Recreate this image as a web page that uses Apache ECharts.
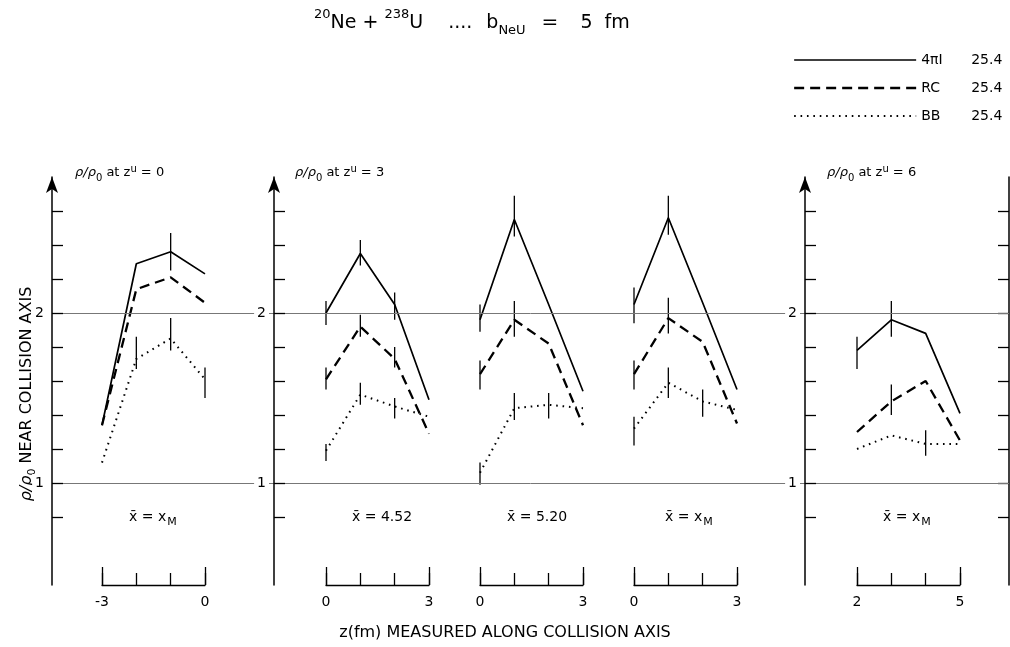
<!DOCTYPE html>
<html><head><meta charset="utf-8">
<script src="https://cdn.jsdelivr.net/npm/echarts@6/dist/echarts.min.js"></script>
<style>html,body{margin:0;padding:0;background:#fff}#c{width:1010px;height:647px}</style>
</head><body><div id="c"></div>
<script>
// ---------------- data ----------------
const panelRanges = [[-3, 0], [0, 3], [0, 3], [0, 3], [2, 5]];
const panelX = [[-3, -2, -1, 0], [0, 1, 2, 3], [0, 1, 2, 3], [0, 1, 2, 3], [2, 3, 4, 5]];
const values4piI = [[1.34, 2.29, 2.36, 2.23], [2.00, 2.35, 2.05, 1.49], [1.96, 2.55, 2.05, 1.54], [2.05, 2.56, 2.06, 1.55], [1.78, 1.96, 1.88, 1.41]];
const valuesRC = [[1.34, 2.14, 2.21, 2.06], [1.61, 1.92, 1.73, 1.29], [1.64, 1.96, 1.82, 1.34], [1.64, 1.97, 1.83, 1.35], [1.30, 1.48, 1.60, 1.25]];
const valuesBB = [[1.12, 1.73, 1.85, 1.61], [1.19, 1.52, 1.45, 1.39], [1.06, 1.44, 1.46, 1.44], [1.32, 1.59, 1.48, 1.43], [1.20, 1.28, 1.23, 1.23]];
// error bars: [x, low, high]
const errorBars = [
  [[-1, 2.25, 2.47], [-2, 1.67, 1.86], [-1, 1.78, 1.97], [0, 1.50, 1.68]],
  [[0, 1.93, 2.07], [1, 2.28, 2.43], [2, 1.96, 2.12], [0, 1.55, 1.68], [1, 1.86, 1.99], [2, 1.68, 1.80], [0, 1.13, 1.23], [1, 1.46, 1.59], [2, 1.38, 1.50]],
  [[0, 1.89, 2.05], [1, 2.45, 2.69], [0, 1.55, 1.72], [1, 1.86, 2.07], [0, 0.99, 1.12], [1, 1.37, 1.53], [2, 1.38, 1.53]],
  [[0, 1.94, 2.15], [1, 2.46, 2.69], [0, 1.55, 1.72], [1, 1.88, 2.09], [0, 1.22, 1.39], [1, 1.50, 1.68], [2, 1.39, 1.55]],
  [[2, 1.67, 1.86], [3, 1.86, 2.07], [3, 1.40, 1.58], [4, 1.16, 1.31]]
];
const zuValues = ['0', '3', null, null, '6'];
const xbarValues = ['xM', '4.52', '5.20', 'xM', 'xM'];
const yTickValues = [0.8, 1.0, 1.2, 1.4, 1.6, 1.8, 2.0, 2.2, 2.4, 2.6];
const yLabelValues = [1, 2];
const gridValues = [1, 2];
const legendNames = ['4πI', 'RC', 'BB'];
const legendValues = ['25.4', '25.4', '25.4'];

// ---------------- layout / style ----------------
const FONT = 'DejaVu Sans';
const panelLeft = [102, 326, 480, 634, 857];
const panelWidth = 103;
const gridTop = 177, gridHeight = 408;
const yMin = 0.4, yMax = 2.8;
const yAxisShown = [true, true, false, false, true];
const yAxisOffset = [50, 52, 0, 0, 52];
const xbarLeft = [129, 352, 507, 665, 883];
const zuLeft = [75, 295, 0, 0, 827];
const styles = [
  { name: legendNames[0], vals: values4piI, line: { color: '#000', width: 1.7, type: 'solid' } },
  { name: legendNames[1], vals: valuesRC, line: { color: '#000', width: 2.3, type: [10, 6] } },
  { name: legendNames[2], vals: valuesBB, line: { color: '#000', width: 2, type: [1.6, 4.8] } }
];
const txt = (size, extra) => Object.assign({ fontSize: size, fontFamily: FONT, fontWeight: 'normal', color: '#000' }, extra || {});

const grids = [], xAxes = [], yAxes = [], series = [], titles = [];
const tickLine = { color: '#000', width: 1.3 };

for (let p = 0; p < 5; p++) {
  grids.push({ left: panelLeft[p], width: panelWidth, top: gridTop, height: gridHeight });
  xAxes.push({
    gridIndex: p, type: 'value', min: panelRanges[p][0], max: panelRanges[p][1], position: 'bottom',
    axisLine: { show: true, onZero: false, lineStyle: tickLine },
    axisTick: { show: true, inside: true, length: 12, customValues: panelX[p], lineStyle: tickLine },
    axisLabel: { show: true, customValues: panelRanges[p], margin: 10, color: '#000', fontSize: 14, fontFamily: FONT },
    splitLine: { show: false }
  });
  xAxes.push({
    gridIndex: p, type: 'value', min: panelRanges[p][0], max: panelRanges[p][1], position: 'bottom',
    axisLine: { show: false, onZero: false },
    axisTick: { show: true, inside: true, length: 18, customValues: panelRanges[p], lineStyle: tickLine },
    axisLabel: { show: false }, splitLine: { show: false }
  });
  const ya = {
    gridIndex: p, type: 'value', min: yMin, max: yMax, position: 'left', offset: yAxisOffset[p],
    show: yAxisShown[p], z: 5,
    axisLine: { show: true, onZero: false, symbol: ['none', 'arrow'], symbolSize: [9, 16], lineStyle: { color: '#000', width: 1.5 } },
    axisTick: { show: true, inside: true, length: 11, customValues: yTickValues, lineStyle: tickLine },
    axisLabel: { show: true, customValues: yLabelValues, margin: 5, color: '#000', fontSize: 14, fontFamily: FONT, backgroundColor: '#fff', padding: [2, 3] },
    splitLine: { show: false }
  };
  if (p === 0) {
    ya.name = '{r|ρ/ρ}{s|0}{t| NEAR COLLISION AXIS}';
    ya.nameLocation = 'middle';
    ya.nameGap = 17;
    ya.nameRotate = 90;
    ya.nameMoveOverlap = false;
    ya.nameTextStyle = {
      color: '#000', fontFamily: FONT, fontSize: 16, padding: [0, 26, 0, 0],
      rich: {
        r: txt(16, { fontStyle: 'italic' }),
        s: txt(11, { lineHeight: 11, padding: [11, 0, 0, 0] }),
        t: txt(16)
      }
    };
  }
  yAxes.push(ya);

  styles.forEach(st => {
    series.push({
      type: 'line', name: st.name, xAxisIndex: 2 * p, yAxisIndex: p,
      data: panelX[p].map((x, i) => [x, st.vals[p][i]]),
      symbol: 'none', showSymbol: false, itemStyle: { color: '#000' },
      lineStyle: st.line, z: 3, silent: true, animation: false
    });
  });
  series.push({
    type: 'custom', xAxisIndex: 2 * p, yAxisIndex: p, z: 4, silent: true, animation: false,
    data: errorBars[p],
    encode: { x: 0, y: [1, 2] },
    renderItem: (params, api) => {
      const a = api.coord([api.value(0), api.value(1)]);
      const b = api.coord([api.value(0), api.value(2)]);
      return { type: 'line', shape: { x1: a[0], y1: a[1], x2: b[0], y2: b[1] }, style: { stroke: '#000', lineWidth: 1.3 } };
    }
  });

  if (zuValues[p] !== null) {
    titles.push({
      left: zuLeft[p], top: 162, padding: 0,
      text: '{r|ρ/ρ}{s|0}{b| at z}{u|u}{b| = ' + zuValues[p] + '}',
      textStyle: {
        fontWeight: 'normal',
        rich: {
          r: txt(13, { fontStyle: 'italic', lineHeight: 22 }),
          b: txt(13, { lineHeight: 22 }),
          s: txt(10, { lineHeight: 10, padding: [10, 0, 0, 0] }),
          u: txt(10, { lineHeight: 10, padding: [0, 0, 8, 0] })
        }
      }
    });
  }
  const xv = xbarValues[p];
  titles.push({
    left: xbarLeft[p], top: 506, padding: 0,
    text: xv === 'xM' ? '{b|x\u0304 = x}{s|M}' : '{b|x\u0304 = ' + xv + '}',
    textStyle: {
      fontWeight: 'normal',
      rich: {
        b: txt(14, { lineHeight: 22 }),
        s: txt(11, { lineHeight: 11, padding: [10, 0, 0, 1] })
      }
    }
  });
}
// right axis of last panel
yAxes.push({
  gridIndex: 4, type: 'value', min: yMin, max: yMax, position: 'right', offset: 49,
  axisLine: { show: true, onZero: false, lineStyle: { color: '#000', width: 1.5 } },
  axisTick: { show: true, inside: true, length: 11, customValues: yTickValues, lineStyle: tickLine },
  axisLabel: { show: false }, splitLine: { show: false }
});
// overlay grid for the horizontal reference lines
grids.push({ left: 52, right: 1, top: gridTop, height: gridHeight });
xAxes.push({ gridIndex: 5, type: 'value', min: 0, max: 1, show: false });
yAxes.push({ gridIndex: 5, type: 'value', min: yMin, max: yMax, show: false, splitLine: { show: false } });
series.push({
  type: 'line', xAxisIndex: 10, yAxisIndex: 6, data: [], z: 1, silent: true, animation: false,
  markLine: {
    symbol: 'none', silent: true, animation: false, label: { show: false },
    lineStyle: { color: '#777', width: 1, type: 'solid' },
    data: gridValues.map(v => ({ yAxis: v }))
  }
});

// main title
titles.push({
  left: 314, top: 7, padding: 0,
  text: '{sp|20}{b|Ne + }{sp|238}{b|U}{d|....}{b|b}{sb|NeU}{eq|=}{b|5}{fm|fm}',
  textStyle: {
    fontWeight: 'normal',
    rich: {
      b: txt(19, { lineHeight: 32 }),
      d: txt(19, { lineHeight: 32, padding: [0, 14, 0, 25] }),
      eq: txt(20, { lineHeight: 32, padding: [0, 22, 0, 16] }),
      fm: txt(19, { lineHeight: 32, padding: [0, 0, 0, 12] }),
      sp: txt(13, { lineHeight: 13, padding: [0, 0, 17, 0] }),
      sb: txt(13, { lineHeight: 13, padding: [15, 0, 0, 0] })
    }
  }
});
// x axis title
titles.push({
  left: 'center', top: 625, padding: 0,
  text: 'z(fm) MEASURED ALONG COLLISION AXIS',
  textStyle: txt(16)
});

const chart = echarts.init(document.getElementById('c'), null, { renderer: 'canvas' });
chart.setOption({
  backgroundColor: '#fff',
  animation: false,
  title: titles,
  legend: {
    left: 793, top: 53, orient: 'vertical', itemWidth: 122, itemHeight: 14, itemGap: 14, padding: 0,
    selectedMode: false,
    itemStyle: { opacity: 0 },
    data: legendNames.map((n, i) => ({ name: n, itemStyle: { opacity: 0 }, lineStyle: { width: styles[i].line.width, type: styles[i].line.type, color: '#000' } })),
    formatter: name => '{a|' + name + '}{v|' + legendValues[legendNames.indexOf(name)] + '}',
    textStyle: {
      color: '#000', fontFamily: FONT, fontSize: 14,
      rich: {
        a: txt(14, { width: 50 }),
        v: txt(14)
      }
    }
  },
  grid: grids,
  xAxis: xAxes,
  yAxis: yAxes,
  series: series
});
</script>
</body></html>
